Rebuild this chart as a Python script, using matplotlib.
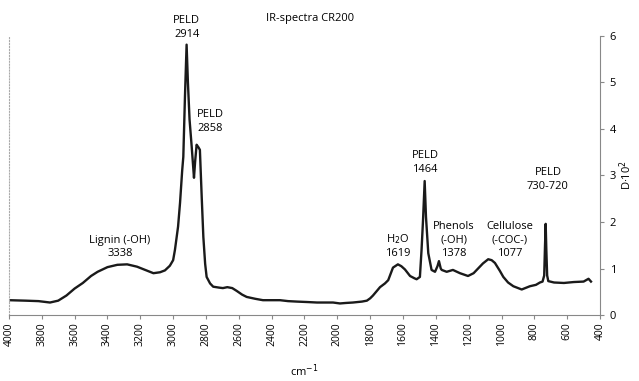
import matplotlib
matplotlib.use("Agg")
import matplotlib.pyplot as plt
import numpy as np

plt.rcParams['font.family'] = ['Open Sans', 'DejaVu Sans']

# spectrum (wavenumber cm-1, D*10^2)
wavenumber = [4000, 3900, 3820, 3750, 3700, 3650, 3600, 3550, 3500, 3460,
              3400, 3340, 3280, 3220, 3170, 3120, 3080, 3050, 3020, 3000,
              2989, 2970, 2958, 2945, 2938, 2928, 2918, 2910, 2900, 2887,
              2873, 2866, 2857, 2845, 2837, 2826, 2816, 2805, 2796, 2775,
              2756, 2720, 2697, 2670, 2640, 2613, 2580, 2552, 2500, 2453,
              2400, 2349, 2300, 2246, 2180, 2124, 2026, 1984, 1950, 1905,
              1850, 1820, 1800, 1783, 1759, 1740, 1710, 1690, 1661, 1631,
              1610, 1588, 1557, 1530, 1517, 1497, 1487, 1478, 1468, 1460,
              1446, 1426, 1405, 1390, 1381, 1370, 1364, 1334, 1296, 1253,
              1204, 1170, 1151, 1113, 1081, 1060, 1040, 1010, 989, 960,
              928, 877, 827, 790, 766, 750, 740, 735, 731, 727,
              722, 715, 680, 620, 560, 500, 470, 455]
absorb = [0.32, 0.31, 0.30, 0.27, 0.31, 0.42, 0.57, 0.69, 0.84, 0.93,
          1.03, 1.08, 1.09, 1.04, 0.97, 0.90, 0.92, 0.96, 1.06, 1.18,
          1.40, 1.90, 2.41, 3.10, 3.40, 4.69, 5.81, 5.00, 4.20, 3.62,
          2.95, 3.30, 3.66, 3.60, 3.55, 2.54, 1.68, 1.10, 0.82, 0.68,
          0.61, 0.59, 0.58, 0.60, 0.58, 0.52, 0.44, 0.39, 0.35, 0.32,
          0.32, 0.32, 0.30, 0.29, 0.28, 0.27, 0.27, 0.25, 0.26, 0.27,
          0.29, 0.31, 0.36, 0.42, 0.52, 0.60, 0.68, 0.75, 1.02, 1.09,
          1.05, 0.98, 0.84, 0.79, 0.77, 0.82, 1.40, 2.04, 2.88, 2.11,
          1.33, 0.97, 0.93, 1.05, 1.16, 1.00, 0.97, 0.93, 0.97, 0.90,
          0.84, 0.90, 0.97, 1.11, 1.20, 1.18, 1.12, 0.95, 0.82, 0.70,
          0.62, 0.55, 0.62, 0.65, 0.70, 0.72, 0.85, 1.50, 1.96, 1.40,
          0.85, 0.73, 0.70, 0.69, 0.71, 0.72, 0.78, 0.72]

# band labels: text, x, y
labels = ["PELD\n2914", "PELD\n2858", "Lignin (-OH)\n3338", "H$_2$O\n1619",
          "PELD\n1464", "Phenols\n(-OH)\n1378", "Cellulose\n(-COC-)\n1077",
          "PELD\n730-720"]
label_x = [2917, 2776, 3324, 1631, 1466, 1290, 948, 717]
label_y = [5.92, 3.9, 1.2, 1.2, 3.02, 1.2, 1.2, 2.65]

fig = plt.figure(figsize=(6.39, 3.81), dpi=100)
ax = fig.add_axes([0.014, 0.173, 0.925, 0.733])

ax.plot(wavenumber, absorb, color='#1a1a1a', lw=1.7)

ax.set_xlim(4000, 400)
ax.set_ylim(0, 6)
ax.set_xticks(np.arange(4000, 399, -200))
ax.set_xticklabels([str(v) for v in range(4000, 399, -200)], rotation=90, fontsize=7.5)
ax.set_yticks(range(0, 7))
ax.yaxis.tick_right()
ax.yaxis.set_label_position('right')
ax.tick_params(axis='y', labelsize=8, length=3, color='#888888', pad=4)
ax.tick_params(axis='x', length=3, color='#888888', pad=2)

ax.spines['top'].set_visible(False)
ax.spines['left'].set_color('#aaaaaa')
ax.spines['left'].set_linestyle(':')
ax.spines['bottom'].set_color('#888888')
ax.spines['right'].set_color('#888888')

ax.set_xlabel('cm$^{-1}$', fontsize=8, labelpad=12)
ax.set_ylabel('D·10$^2$', fontsize=8, labelpad=1)

for t, x, y in zip(labels, label_x, label_y):
    ax.text(x, y, t, ha='center', va='bottom', fontsize=8, linespacing=1.3)

fig.text(0.485, 0.952, 'IR-spectra CR200', ha='center', va='center', fontsize=8)

fig.savefig('out.png', dpi=100)
